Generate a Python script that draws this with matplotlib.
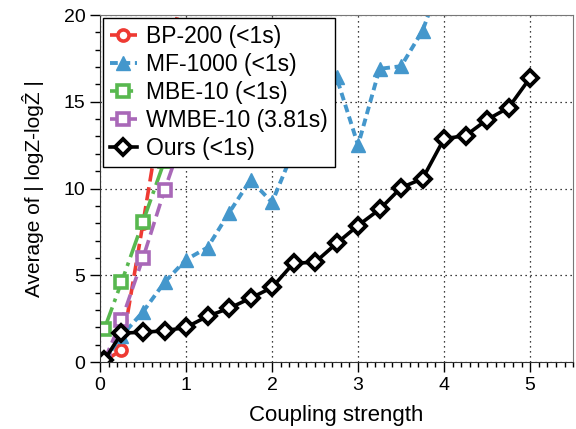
import numpy as np
import matplotlib.pyplot as plt

plt.rcParams['font.family'] = ['Liberation Sans', 'DejaVu Sans']

x_short = [0.05, 0.25, 0.5, 0.75, 1.0, 1.25, 1.5]
bp = [0.05, 0.7, 8.0, 15.5, 23.0, 30.0, 37.0]
mbe = [1.9, 4.6, 8.1, 11.6, 15.2, 18.8, 22.5]
wmbe = [0.1, 2.4, 6.0, 9.9, 13.5, 17.2, 22.0]

x_mf = [0.05, 0.25, 0.5, 0.75, 1.0, 1.25, 1.5, 1.75, 2.0, 2.25, 2.5, 2.75,
        3.0, 3.25, 3.5, 3.75, 4.0]
mf = [0.1, 1.5, 2.9, 4.6, 5.9, 6.6, 8.6, 10.5, 9.2, 12.2, 14.5, 16.4,
      12.5, 16.9, 17.05, 19.1, 22.5]

x_ours = [0.05, 0.25, 0.5, 0.75, 1.0, 1.25, 1.5, 1.75, 2.0, 2.25, 2.5, 2.75,
          3.0, 3.25, 3.5, 3.75, 4.0, 4.25, 4.5, 4.75, 5.0]
ours = [0.1, 1.67, 1.72, 1.8, 2.0, 2.64, 3.1, 3.68, 4.3, 5.7, 5.75, 6.84,
        7.87, 8.8, 10.05, 10.57, 12.87, 13.05, 13.97, 14.66, 16.38]

red = '#ee3a33'
blue = '#4497cc'
green = '#58b84f'
purple = '#a968b8'

fig = plt.figure(figsize=(5.76, 4.29), dpi=100)
ax = fig.add_axes([0.1736, 0.156, 0.8214, 0.809])

ax.plot(x_short, bp, color=red, linestyle='--', linewidth=2.6, marker='o',
        markersize=8, markerfacecolor='white', markeredgewidth=2.6,
        label='BP-200 (<1s)')
ax.plot(x_mf, mf, color=blue, linestyle=(0, (2, 1.2)), linewidth=2.8, marker='^',
        markersize=10, markerfacecolor=blue, markeredgewidth=1,
        label='MF-1000 (<1s)')
ax.plot(x_short, mbe, color=green, linestyle='-.', linewidth=2.6, marker='s',
        markersize=9, markerfacecolor='white', markeredgewidth=2.6,
        label='MBE-10 (<1s)')
ax.plot(x_short, wmbe, color=purple, linestyle='--', linewidth=2.6, marker='s',
        markersize=9, markerfacecolor='white', markeredgewidth=2.6,
        label='WMBE-10 (3.81s)')
ax.plot(x_ours, ours, color='black', linestyle='-', linewidth=2.6, marker='D',
        markersize=8, markerfacecolor='white', markeredgewidth=2.8,
        label='Ours (<1s)')

ax.set_xlim(0, 5.5)
ax.set_ylim(0, 20)
ax.set_xticks([0, 1, 2, 3, 4, 5])
ax.set_yticks([0, 5, 10, 15, 20])
ax.set_xticks(np.arange(0, 5.51, 0.1), minor=True)
ax.set_yticks(np.arange(0, 20.1, 1), minor=True)
ax.tick_params(which='major', direction='out', length=7, width=1,
               labelsize=14, top=False, right=False)
ax.tick_params(which='minor', direction='out', length=3.5, width=1,
               top=False, right=False)
ax.grid(True, which='major', linestyle=(0, (1, 3)), color='black', linewidth=0.9)

for s in ['left', 'bottom']:
    ax.spines[s].set_color('#333333')
for s in ['top', 'right']:
    ax.spines[s].set_color('#777777')

ax.set_xlabel('Coupling strength', fontsize=16, labelpad=8)
ax.set_ylabel('Average of | logZ-logẐ |', fontsize=15, labelpad=14)

leg = ax.legend(loc='upper left', bbox_to_anchor=(0.006, 0.992), fontsize=16.5,
                handlelength=1.2, borderaxespad=0, frameon=True, fancybox=False,
                edgecolor='black', framealpha=1, borderpad=0.3,
                labelspacing=0.22, handletextpad=0.4)
leg.get_frame().set_linewidth(1)

fig.savefig('out.png', dpi=100)
